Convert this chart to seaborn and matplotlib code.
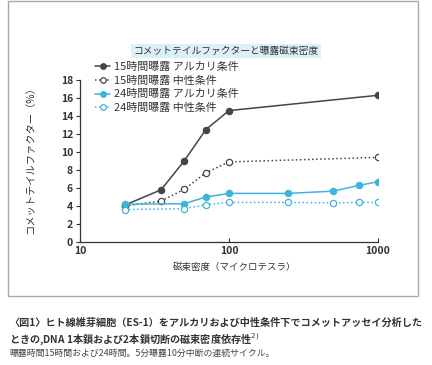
import matplotlib
matplotlib.use("Agg")
import matplotlib.pyplot as plt
import seaborn as sns
import pandas as pd
from matplotlib.lines import Line2D
from matplotlib.patches import Rectangle

sns.set_theme(style="white")
plt.rcParams['font.family'] = ['Noto Sans CJK JP', 'DejaVu Sans']

# data
x15 = [20, 35, 50, 70, 100, 1000]
alk15 = [4.1, 5.8, 9.0, 12.5, 14.6, 16.3]
neu15 = [4.0, 4.55, 5.85, 7.7, 8.9, 9.4]
x24 = [20, 50, 70, 100, 250, 500, 750, 1000]
alk24 = [4.2, 4.25, 5.0, 5.4, 5.4, 5.65, 6.3, 6.7]
neu24 = [3.6, 3.7, 4.15, 4.4, 4.4, 4.35, 4.4, 4.4]
labels = ["15時間曝露 アルカリ条件", "15時間曝露 中性条件", "24時間曝露 アルカリ条件", "24時間曝露 中性条件"]
xticks = [10, 100, 1000]
yticks = [0, 2, 4, 6, 8, 10, 12, 14, 16, 18]

dark = "#454545"
blue = "#3fb3dc"

fig = plt.figure(figsize=(4.32, 3.65), dpi=100)
fig.patch.set_facecolor("white")

# outer frame
fig.patches.append(Rectangle((8/432, 1-296/365), 410/432, 295/365, transform=fig.transFigure,
                             fill=False, edgecolor="#aaaaaa", lw=1.0))

ax = fig.add_axes([80/432, 1-242/365, 298/432, 162/365])
series = [
    (x15, alk15, dark, "-", dark),
    (x15, neu15, dark, ":", "white"),
    (x24, alk24, blue, "-", blue),
    (x24, neu24, blue, ":", "white"),
]
handles = []
for (xs, ys, c, ls, fc), lab in zip(series, labels):
    df = pd.DataFrame({"x": xs, "y": ys})
    sns.lineplot(data=df, x="x", y="y", ax=ax, color=c, linestyle=ls, lw=1.1,
                 marker="o", markersize=4.5, markerfacecolor=fc, markeredgecolor=c,
                 markeredgewidth=0.9, zorder=3)
    handles.append(Line2D([], [], color=c, linestyle=ls, lw=1.1, marker="o", markersize=4,
                          markerfacecolor=fc, markeredgecolor=c, markeredgewidth=0.9))

ax.set_xscale("log")
ax.set_xlim(10, 1000)
ax.set_ylim(0, 18)
ax.set_xticks(xticks)
ax.set_xticklabels([str(t) for t in xticks], fontsize=7.5, fontweight="bold", color="#333333")
ax.minorticks_off()
ax.set_yticks(yticks)
ax.set_yticklabels([str(t) for t in yticks], fontsize=7.5, fontweight="bold", color="#333333")
ax.tick_params(axis="y", direction="out", length=3, width=0.8, color="#333333", pad=2, left=True)
ax.tick_params(axis="x", direction="in", length=3, width=0.8, color="#333333", pad=3, bottom=True)
for s in ["top", "right"]:
    ax.spines[s].set_visible(False)
for s in ["left", "bottom"]:
    ax.spines[s].set_color("#333333")
    ax.spines[s].set_linewidth(0.9)
ax.set_xlabel("")
ax.set_ylabel("")
ax.set_facecolor("white")

fig.text(30/432, 1-158/365, "コメットテイルファクター（%）", rotation=90, ha="center", va="center",
         fontsize=7.4, color="#333333")
fig.text(235/432, 1-267/365, "磁束密度（マイクロテスラ）", ha="center", va="center",
         fontsize=6.8, color="#333333")

fig.text(226/432, 1-51/365, "コメットテイルファクターと曝露磁束密度", ha="center", va="center",
         fontsize=7, color="#333333",
         bbox=dict(boxstyle="square,pad=0.25", facecolor="#dcf0f8", edgecolor="none"))

leg = fig.legend(handles, labels, loc="upper left", bbox_to_anchor=(95/432, 1-62/365),
                 frameon=False, fontsize=7.9, handlelength=1.4, handletextpad=0.3,
                 labelspacing=0.32, borderaxespad=0, borderpad=0)
for t in leg.get_texts():
    t.set_color("#333333")

fig.text(9/432, 1-323/365, "〈図1〉ヒト線維芽細胞（ES-1）をアルカリおよび中性条件下でコメットアッセイ分析した",
         ha="left", va="center", fontsize=7.3, fontweight="bold", color="#333333")
fig.text(9/432, 1-339/365, "ときの,DNA 1本鎖および2本鎖切断の磁束密度依存性$^{2)}$",
         ha="left", va="center", fontsize=7.3, fontweight="bold", color="#333333")
fig.text(9/432, 1-353/365, "曝露時間15時間および24時間。5分曝露10分中断の連続サイクル。",
         ha="left", va="center", fontsize=6.4, color="#444444")

fig.savefig("out.png", dpi=100)
